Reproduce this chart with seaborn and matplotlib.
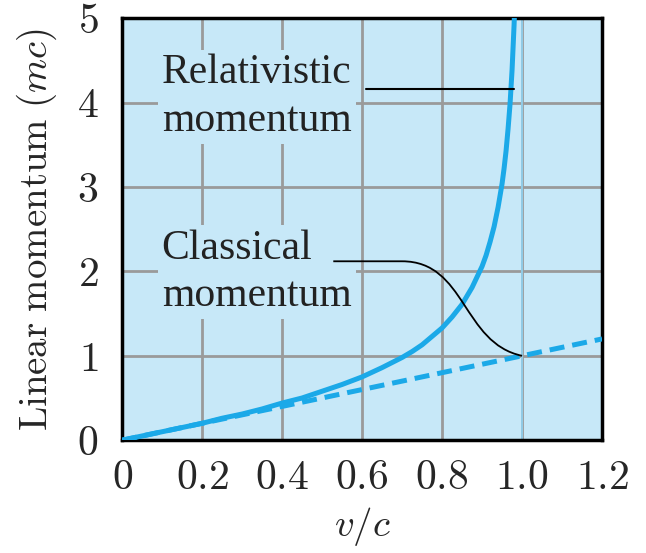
import numpy as np
import pandas as pd
import seaborn as sns
import matplotlib.pyplot as plt
from matplotlib.path import Path
from matplotlib.patches import PathPatch

sns.set_style("white")
plt.rcParams["font.family"] = ["Liberation Serif", "DejaVu Serif"]
plt.rcParams["mathtext.fontset"] = "cm"

# valores
v_rel = [0, 0.05, 0.1, 0.15, 0.2, 0.25, 0.3, 0.35, 0.4, 0.45, 0.5, 0.55,
         0.6, 0.65, 0.7, 0.725, 0.75, 0.775, 0.8, 0.825, 0.85, 0.875, 0.9,
         0.91, 0.92, 0.93, 0.94, 0.95, 0.955, 0.96, 0.965, 0.97, 0.975,
         0.98, 0.985]
p_rel = [0, 0.05, 0.10, 0.15, 0.20, 0.26, 0.31, 0.37, 0.44, 0.50, 0.58,
         0.66, 0.75, 0.86, 0.98, 1.05, 1.13, 1.23, 1.33, 1.46, 1.61, 1.81,
         2.06, 2.19, 2.35, 2.53, 2.76, 3.04, 3.22, 3.43, 3.69, 3.99, 4.39,
         4.92, 5.6]
v_cla = [0, 1.2]
p_cla = [0, 1.2]

xticks = [0, 0.2, 0.4, 0.6, 0.8, 1.0, 1.2]
xlabels = ["0", "0.2", "0.4", "0.6", "0.8", "1.0", "1.2"]
yticks = [0, 1, 2, 3, 4, 5]

fondo = "#c7e8f8"
azul = "#1ba9e8"

fig = plt.figure(figsize=(6.46, 5.53), dpi=100)
ax = fig.add_axes([0.189, 0.204, 0.743, 0.763])
ax.set_facecolor(fondo)

for xv in xticks[1:-1]:
    ax.axvline(xv, color="#9a9a9a", lw=2, zorder=0)
for yv in yticks[1:-1]:
    ax.axhline(yv, color="#9a9a9a", lw=2, zorder=0)
ax.axvline(1.0, color="#8fd3f3", lw=1.2, zorder=1)

rel = pd.DataFrame({"v": v_rel, "p": p_rel})
cla = pd.DataFrame({"v": v_cla, "p": p_cla})
sns.lineplot(data=rel, x="v", y="p", color=azul, lw=3.6, ax=ax, zorder=3)
sns.lineplot(data=cla, x="v", y="p", color=azul, lw=3.6, ax=ax, zorder=3,
             dashes=False, linestyle=(0, (3.0, 1.6)))

# lineas guia de las etiquetas
ax.plot([0.61, 0.98], [4.16, 4.16], color="black", lw=1.5, zorder=4)
guia = Path([(0.528, 2.12), (0.70, 2.12), (0.86, 2.12), (0.85, 1.15), (1.0, 1.0)],
            [Path.MOVETO, Path.LINETO, Path.CURVE4, Path.CURVE4, Path.CURVE4])
ax.add_patch(PathPatch(guia, facecolor="none", edgecolor="black", lw=1.3, zorder=4))

caja = dict(facecolor=fondo, edgecolor="none", pad=3)
ax.text(0.099, 4.58, "Relativistic\nmomentum", fontsize=30, va="top",
        ha="left", linespacing=1.3, color="#222222", bbox=caja, zorder=2)
ax.text(0.099, 2.50, "Classical\nmomentum", fontsize=30, va="top",
        ha="left", linespacing=1.3, color="#222222", bbox=caja, zorder=2)

ax.set_xlim(0, 1.2)
ax.set_ylim(0, 5)
ax.set_xticks(xticks, labels=["$" + s + "$" for s in xlabels])
ax.set_yticks(yticks, labels=["$%d$" % y for y in yticks])
ax.tick_params(length=0, labelsize=30)
ax.tick_params(axis="x", pad=14)
ax.tick_params(axis="y", pad=17)
ax.set_xlabel("$v/c$", fontsize=28, labelpad=5)
ax.set_ylabel(r"$\mathrm{Linear\ momentum}\ (mc)$", fontsize=28, labelpad=13)
for s in ax.spines.values():
    s.set_linewidth(2.5)
    s.set_color("black")

plt.savefig("out.png", dpi=100)
